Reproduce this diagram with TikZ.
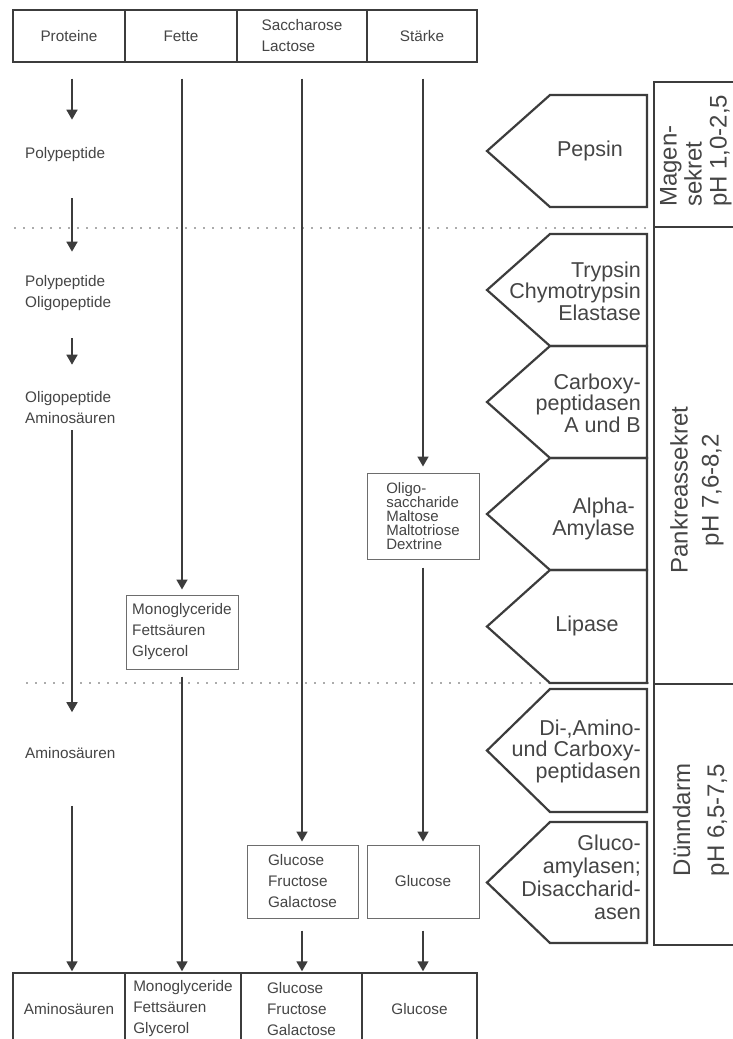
\documentclass[tikz,border=0pt]{standalone}
\usepackage{fontspec}
\setmainfont{Liberation Sans}
\usetikzlibrary{arrows.meta}
\definecolor{ink}{HTML}{3C3C3C}
\definecolor{txt}{HTML}{454545}
\begin{document}
\begin{tikzpicture}[x=1pt,y=-1pt,
  every node/.style={text=txt, inner sep=0pt},
  sm/.style={font=\fontsize{15.3}{21}\selectfont},
  big/.style={font=\fontsize{21.5}{21.5}\selectfont},
  sek/.style={rotate=90},
  frame/.style={draw=ink, line width=1.4pt},
  topbox/.style={frame, sm, align=left},
  ibox/.style={draw=ink!75, line width=1pt, sm, align=left, minimum height=73pt},
  arr/.style={draw=ink, line width=1.7pt, -{Triangle[length=10pt,width=11pt]}},
  enz/.style={draw=ink, line width=2.2pt, line join=miter},
  sec/.style={draw=ink, line width=2pt},
  dots/.style={draw=ink!85, line width=1.8pt, line cap=round, dash pattern=on 0pt off 9pt},
]
\useasboundingbox (0,0) rectangle (733,1039);
\fill[white] (0,0) rectangle (733,1039);
\clip (0,0) rectangle (733,1039);

% column positions
\coordinate (c1) at (72,0);
\coordinate (c2) at (182,0);
\coordinate (c3) at (302,0);
\coordinate (c4) at (423,0);

% top row
\node[topbox, minimum width=112pt, minimum height=52pt] (t1) at (69,36) {Proteine};
\node[topbox, minimum width=112pt, minimum height=52pt] (t2) at (181,36) {Fette};
\node[topbox, minimum width=130pt, minimum height=52pt] (t3) at (302,36) {Saccharose\\Lactose};
\node[topbox, minimum width=110pt, minimum height=52pt] (t4) at (422,36) {Stärke};

% bottom row
\node[topbox, minimum width=112pt, minimum height=72pt] (b1) at (69,1009) {Aminosäuren};
\node[topbox, minimum width=116pt, minimum height=72pt] (b2) at (183,1009) {Monoglyceride\\Fettsäuren\\Glycerol};
\node[topbox, minimum width=121pt, minimum height=72pt] (b3) at (301.5,1009) {Glucose\\Fructose\\Galactose};
\node[topbox, minimum width=115pt, minimum height=72pt] (b4) at (419.5,1009) {Glucose};

% intermediate boxes
\node[ibox, minimum width=112pt, minimum height=74pt] (mono) at (182,632) {Monoglyceride\\Fettsäuren\\Glycerol};
\node[ibox, minimum width=111pt] (gfg) at (302.5,881.5) {Glucose\\Fructose\\Galactose};
\node[ibox, minimum width=112pt] (gl) at (423,881.5) {Glucose};
\node[ibox, minimum width=112pt, minimum height=86pt, font=\fontsize{15}{14}\selectfont] (oligo) at (423,516) {Oligo-\\saccharide\\Maltose\\Maltotriose\\Dextrine};

% protein column labels
\node[sm, anchor=west, align=left] (pp1) at (25,155) {Polypeptide};
\node[sm, anchor=west, align=left] (pp2) at (25,293) {Polypeptide\\Oligopeptide};
\node[sm, anchor=west, align=left] (pp3) at (25,408) {Oligopeptide\\Aminosäuren};
\node[sm, anchor=west, align=left] (pp4) at (25,753) {Aminosäuren};

% dotted separators
\draw[dots] (15,228) -- (650,228);
\draw[dots] (27,683) -- (650,683);

% protein arrows
\draw[arr, shorten <=16pt, shorten >=28pt] (t1.south -| c1) -- (pp1.north -| c1);
\draw[arr, shorten <=36pt, shorten >=23.5pt] (pp1.south -| c1) -- (pp2.north -| c1);
\draw[arr, shorten <=27.5pt, shorten >=27pt] (pp2.south -| c1) -- (pp3.north -| c1);
\draw[arr, shorten <=6pt, shorten >=35pt] (pp3.south -| c1) -- (pp4.north -| c1);
\draw[arr, shorten <=47pt, shorten >=1pt] (pp4.south -| c1) -- (b1.north -| c1);

% fat column
\draw[arr, shorten <=16pt, shorten >=5pt] (t2.south -| c2) -- (mono.north -| c2);
\draw[arr, shorten <=7pt, shorten >=1pt] (mono.south -| c2) -- (b2.north -| c2);

% sugar column
\draw[arr, shorten <=16pt, shorten >=3pt] (t3.south -| c3) -- (gfg.north -| c3);
\draw[arr, shorten <=12pt, shorten >=1pt] (gfg.south -| c3) -- (b3.north -| c3);

% starch column
\draw[arr, shorten <=16pt, shorten >=6pt] (t4.south -| c4) -- (oligo.north -| c4);
\draw[arr, shorten <=8pt, shorten >=3pt] (oligo.south -| c4) -- (gl.north -| c4);
\draw[arr, shorten <=12pt, shorten >=1pt] (gl.south -| c4) -- (b4.north -| c4);

% enzyme pentagons
\foreach \t/\b in {95/207, 234/346, 346/458, 458/570, 570/683, 689/812, 822/943}
  \draw[enz] (487,{(\t+\b)/2}) -- (550,\t) -- (647,\t) -- (647,\b) -- (550,\b) -- cycle;

\node[big] (pepsin) at (590,151) {Pepsin};
\node[big, align=right, anchor=east] (trypsin) at (641,291) {Trypsin\\Chymotrypsin\\Elastase};
\node[big, align=right, anchor=east] (carboxy) at (641,403) {Carboxy-\\peptidasen\\A und B};
\node[big, align=right, anchor=east] (amylase) at (635,519) {Alpha-\\Amylase};
\node[big] (lipase) at (587,626) {Lipase};
\node[big, align=right, anchor=east] (diamino) at (641,751) {Di-,Amino-\\und Carboxy-\\peptidasen};
\node[big, align=right, anchor=east, font=\fontsize{21.5}{23}\selectfont] (gluco) at (641,877) {Gluco-\\amylasen;\\Disaccharid-\\asen};

% secretion boxes
\draw[sec] (654,82) rectangle (760,227);
\draw[sec] (654,227) rectangle (760,684);
\draw[sec] (654,684) rectangle (760,945);

\node[sek, align=left, anchor=north west, font=\fontsize{24}{25}\selectfont] (magen) at (660,207) {Magen-\\sekret\\pH 1,0-2,5};
\node[sek, align=center, font=\fontsize{24}{31}\selectfont] (pank) at (697,490) {Pankreassekret\\pH 7,6-8,2};
\node[sek, align=center, font=\fontsize{24}{34}\selectfont] (duenn) at (701,820) {Dünndarm\\pH 6,5-7,5};
\end{tikzpicture}
\end{document}
